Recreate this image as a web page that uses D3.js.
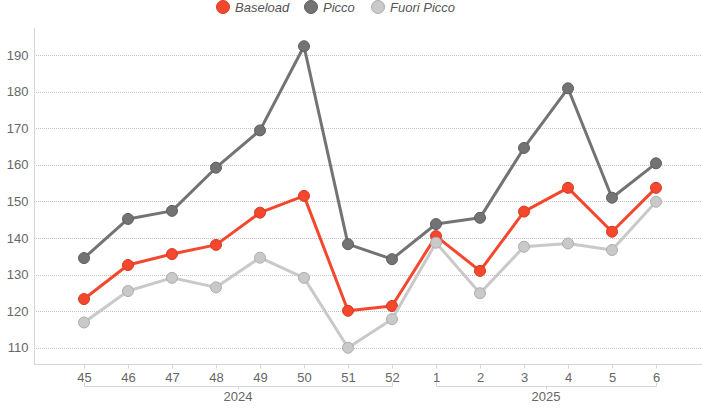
<!DOCTYPE html>
<html>
<head>
<meta charset="utf-8">
<script src="https://cdn.jsdelivr.net/npm/d3@7"></script>
<style>
    body { margin: 0; background: #fff; }
    svg { display: block; font-family: "Liberation Sans", Arial, sans-serif; }
</style>
</head>
<body>
<div class="chart"></div>
<script>
var weeks = ['45', '46', '47', '48', '49', '50', '51', '52', '1', '2', '3', '4', '5', '6'];
var years = ['2024', '2024', '2024', '2024', '2024', '2024', '2024', '2024', '2025', '2025', '2025', '2025', '2025', '2025'];

var baseload = [123.3, 132.6, 135.6, 138.1, 146.9, 151.5, 120.1, 121.4, 140.5, 131.0, 147.2, 153.7, 141.7, 153.7];
var picco = [134.5, 145.2, 147.4, 159.2, 169.4, 192.4, 138.3, 134.2, 143.8, 145.5, 164.6, 180.9, 151.0, 160.4];
var fuoriPicco = [116.9, 125.5, 129.1, 126.5, 134.6, 129.1, 110.0, 117.8, 138.7, 124.9, 137.6, 138.5, 136.7, 149.9];

var yTicks = [110, 120, 130, 140, 150, 160, 170, 180, 190];

// drawn in this order, last one on top
var series = [
    { label: 'Picco', values: picco, color: '#737373', stroke: '#5e5e5e' },
    { label: 'Baseload', values: baseload, color: '#f5472d', stroke: '#d63a22' },
    { label: 'Fuori Picco', values: fuoriPicco, color: '#c9c9c9', stroke: '#adadad' }
];
var legendOrder = ['Baseload', 'Picco', 'Fuori Picco'];

draw();

function draw() {
    var width = 702;
    var height = 410;
    var left = 34, right = 702, top = 28, bottom = 364;

    var svg = d3.select('.chart')
        .append('svg')
        .attr('width', width)
        .attr('height', height);

    var keys = weeks.map(function (w, i) { return years[i] + '-' + w; });

    var x = d3.scalePoint()
        .domain(keys)
        .range([40, 700])
        .padding(1);

    var y = d3.scaleLinear()
        .domain([105.55, 197.38])
        .range([bottom, top]);

    // grid
    svg.append('g')
        .selectAll('line')
        .data(yTicks)
        .enter()
        .append('line')
        .attr('x1', left)
        .attr('x2', right)
        .attr('y1', function (d) { return Math.round(y(d)) + 0.5; })
        .attr('y2', function (d) { return Math.round(y(d)) + 0.5; })
        .attr('stroke', '#c4c4c4')
        .attr('stroke-width', 1)
        .attr('stroke-dasharray', '1,1');

    // y axis
    var yAxis = svg.append('g')
        .attr('transform', 'translate(' + (left + 0.5) + ',0)')
        .call(d3.axisLeft(y).tickValues(yTicks).tickSize(0).tickPadding(6));
    yAxis.select('.domain').attr('stroke', '#d3d6e2').attr('d', 'M0,' + top + 'V' + bottom);
    yAxis.selectAll('text').attr('fill', '#666').style('font-size', '13px');

    // x axis
    var xAxis = svg.append('g')
        .attr('transform', 'translate(0,' + (bottom + 0.5) + ')')
        .call(d3.axisBottom(x).tickSize(4).tickPadding(4).tickFormat(function (d) { return d.split('-')[1]; }));
    xAxis.select('.domain').attr('stroke', '#d3d6e2').attr('d', 'M' + left + ',0H' + right);
    xAxis.selectAll('.tick line').attr('stroke', '#d3d6e2');
    xAxis.selectAll('text').attr('fill', '#666').style('font-size', '13px');

    // year brackets
    var groups = d3.groups(keys, function (k) { return k.split('-')[0]; });
    var by = 386.5;
    groups.forEach(function (g) {
        var x0 = x(g[1][0]), x1 = x(g[1][g[1].length - 1]);
        var xm = Math.round((x0 + x1) / 2) + 0.5;
        var b = svg.append('g');
        b.append('path')
            .attr('d', 'M' + (x0 + 0.5) + ',' + (by - 4) + 'V' + by + 'H' + (x1 + 0.5) + 'V' + (by - 4))
            .attr('fill', 'none')
            .attr('stroke', '#d3d6e2');
        b.append('line')
            .attr('x1', xm).attr('x2', xm)
            .attr('y1', by).attr('y2', by + 3)
            .attr('stroke', '#d3d6e2');
        b.append('text')
            .attr('x', (x0 + x1) / 2)
            .attr('y', 401)
            .attr('text-anchor', 'middle')
            .attr('fill', '#666')
            .style('font-size', '13px')
            .text(g[0]);
    });

    var line = d3.line()
        .x(function (d, i) { return x(keys[i]); })
        .y(function (d) { return y(d); });

    series.forEach(function (s) {
        var g = svg.append('g');
        g.append('path')
            .attr('d', line(s.values))
            .attr('fill', 'none')
            .attr('stroke', s.color)
            .attr('stroke-width', 3)
            .attr('stroke-linejoin', 'round');
        g.selectAll('circle')
            .data(s.values)
            .enter()
            .append('circle')
            .attr('cx', function (d, i) { return x(keys[i]); })
            .attr('cy', function (d) { return y(d); })
            .attr('r', 5.5)
            .attr('fill', s.color)
            .attr('stroke', s.stroke)
            .attr('stroke-width', 1);
    });

    // legend
    var legendX = [223, 311, 378];
    var legend = svg.append('g');
    legendOrder.forEach(function (name, i) {
        var s = series.filter(function (d) { return d.label === name; })[0];
        legend.append('circle')
            .attr('cx', legendX[i])
            .attr('cy', 7)
            .attr('r', 6.5)
            .attr('fill', s.color)
            .attr('stroke', s.stroke)
            .attr('stroke-width', 1);
        legend.append('text')
            .attr('x', legendX[i] + 12)
            .attr('y', 12)
            .attr('fill', '#555')
            .style('font-size', '13px')
            .style('font-style', 'italic')
            .text(name);
    });
}
</script>
</body>
</html>
